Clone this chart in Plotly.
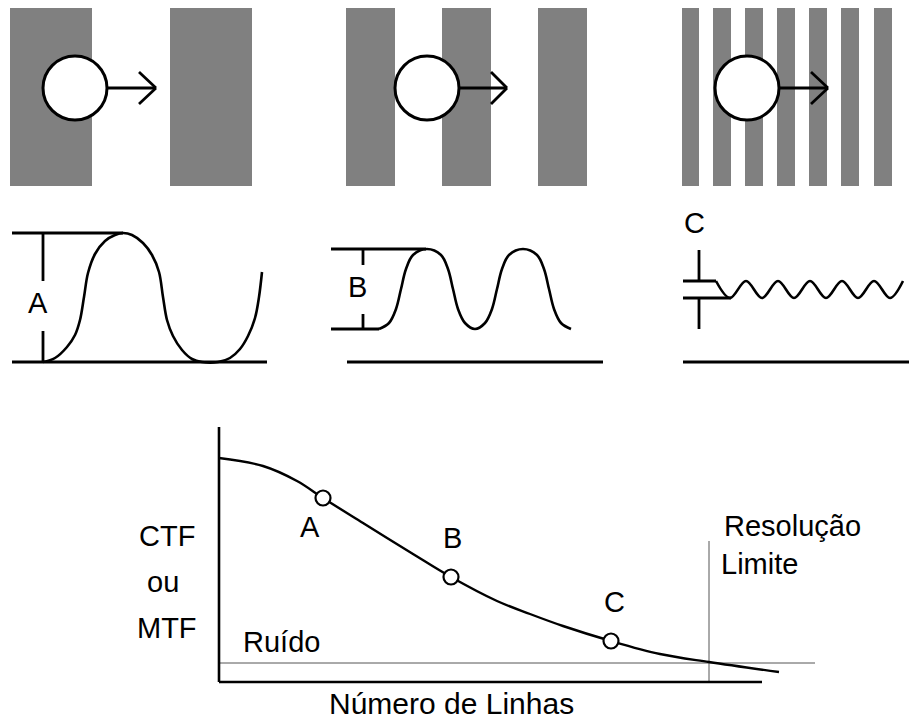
import plotly.graph_objects as go

# ---------------- data (diagram coordinates, px, y downward) ----------------
# top row: grating bars (left, right edges)
bar_left = [10, 170, 346, 442, 538, 682, 713, 745, 777, 809, 841, 874]
bar_right = [92, 252, 395, 491, 587, 699, 731, 763, 795, 827, 859, 892]
bar_top, bar_bottom = 8, 186

# scanning spots (center x) and arrow tips
spot_cx = [75, 427, 747]
spot_cy = 88
spot_r = 32
arrow_tip = [156, 507, 828]
arrow_head_back = [139, 491, 811]

# middle row: response waveforms
wave_A_x = [43, 55, 67, 75, 80, 84, 88, 95, 105, 115, 123, 132, 143, 152, 159, 163, 167,
            173, 182, 192, 202, 218, 230, 240, 248, 255, 259, 262]
wave_A_y = [362, 358, 347, 335, 320, 297, 273, 254, 241, 235, 233, 235, 243, 255, 272, 297, 320,
            336, 350, 359, 362, 362, 358, 349, 336, 318, 297, 272]

wave_B_x = [379, 389, 396, 401, 406, 413, 427, 441, 448, 453, 458, 465, 475,
            485, 492, 497, 502, 509, 523, 537, 544, 549, 554, 561, 571]
wave_B_y = [329, 323, 309, 289, 269, 255, 249, 255, 269, 289, 309, 323, 329,
            323, 309, 289, 269, 255, 249, 255, 269, 289, 309, 323, 329]

wave_C_x = [716, 730, 746, 762, 778, 794, 810, 826, 842, 858, 874, 890, 903]
wave_C_y = [281, 298, 281, 298, 281, 298, 281, 298, 281, 298, 281, 298, 281]

# amplitude guide segments (x0, y0, x1, y1)
guide_segments = [
    (12, 233, 123, 233), (12, 362, 267, 362), (43, 233, 43, 281), (43, 331, 43, 362),
    (331, 249, 426, 249), (331, 329, 379, 329), (363, 249, 363, 265), (363, 314, 363, 329),
    (347, 362, 603, 362),
    (699, 250, 699, 281), (699, 298, 699, 329), (683, 281, 716, 281), (683, 298, 731, 298),
    (683, 362, 909, 362),
]

# bottom: CTF / MTF curve
ctf_x = [219, 263, 297, 323, 363, 413, 451, 497, 530, 563, 611, 660, 709, 779]
ctf_y = [458, 466, 481, 498, 523, 554, 577, 601, 614, 626, 641, 654, 662, 672]
pts_label = ["A", "B", "C"]
pts_x = [323, 451, 611]
pts_y = [498, 577, 641]

axis_segments = [(219, 427, 219, 682), (219, 682, 762, 682)]
thin_segments = [(219, 663, 815, 663), (709, 541, 709, 683)]

# text labels: (text, x, y, xanchor, size)
labels = [
    ("A", 38, 303, "center", 29), ("B", 357, 287, "center", 29), ("C", 694, 223, "center", 29),
    ("A", 310, 527, "center", 29), ("B", 452, 538, "center", 29), ("C", 614, 602, "center", 29),
    ("CTF", 167, 536, "center", 29), ("ou", 163, 582, "center", 29), ("MTF", 167, 628, "center", 29),
    ("Ruído", 281, 642, "center", 29),
    ("Resolução", 792, 526, "center", 29), ("Limite", 719, 564, "left", 29),
    ("Número de Linhas", 451, 703, "center", 30),
]

# ---------------- figure ----------------
FONT = "Liberation Sans, Arial, sans-serif"
fig = go.Figure()


def seg_trace(segs, width, color):
    xs, ys = [], []
    for x0, y0, x1, y1 in segs:
        xs += [x0, x1, None]
        ys += [y0, y1, None]
    return go.Scatter(x=xs, y=ys, mode="lines", line=dict(color=color, width=width),
                      hoverinfo="skip")


shapes = []
for l, r in zip(bar_left, bar_right):
    shapes.append(dict(type="rect", xref="x", yref="y", x0=l, x1=r, y0=bar_top, y1=bar_bottom,
                       fillcolor="#808080", line=dict(width=0), layer="below"))
for cx in spot_cx:
    shapes.append(dict(type="circle", xref="x", yref="y", x0=cx - spot_r, x1=cx + spot_r,
                       y0=spot_cy - spot_r, y1=spot_cy + spot_r,
                       fillcolor="white", line=dict(color="black", width=3), layer="below"))

# arrows
arrow_segs = []
for cx, tip, back in zip(spot_cx, arrow_tip, arrow_head_back):
    arrow_segs.append((cx + spot_r, spot_cy, tip, spot_cy))
    arrow_segs.append((back, spot_cy - 16, tip, spot_cy))
    arrow_segs.append((back, spot_cy + 16, tip, spot_cy))
fig.add_trace(seg_trace(arrow_segs, 2.8, "black"))

fig.add_trace(seg_trace(guide_segments, 2.8, "black"))
for wx, wy in [(wave_A_x, wave_A_y), (wave_B_x, wave_B_y), (wave_C_x, wave_C_y)]:
    fig.add_trace(go.Scatter(x=wx, y=wy, mode="lines",
                             line=dict(color="black", width=2.6, shape="spline", smoothing=1.0),
                             hoverinfo="skip"))

fig.add_trace(seg_trace(thin_segments, 1, "#555555"))
fig.add_trace(seg_trace(axis_segments, 2.6, "black"))
fig.add_trace(go.Scatter(x=ctf_x, y=ctf_y, mode="lines",
                         line=dict(color="black", width=2.4, shape="spline", smoothing=1.0),
                         hoverinfo="skip"))
fig.add_trace(go.Scatter(x=pts_x, y=pts_y, mode="markers", text=pts_label,
                         marker=dict(symbol="circle", size=15, color="white",
                                     line=dict(color="black", width=2.2)),
                         hoverinfo="skip"))

annotations = []
for t, x, y, xa, s in labels:
    annotations.append(dict(text=t, x=x, y=y, xref="x", yref="y", xanchor=xa, yanchor="middle",
                            showarrow=False, font=dict(family=FONT, size=s, color="black")))

fig.update_layout(
    width=909, height=722, autosize=False,
    margin=dict(l=0, r=0, t=0, b=0, pad=0),
    paper_bgcolor="white", plot_bgcolor="white",
    showlegend=False,
    xaxis=dict(range=[0, 909], visible=False, fixedrange=True),
    yaxis=dict(range=[722, 0], visible=False, fixedrange=True),
    shapes=shapes, annotations=annotations,
    font=dict(family=FONT),
)

fig.write_html("out.html", config={"displayModeBar": False},
               post_script="document.body.style.margin='0';document.body.style.overflow='hidden';")
